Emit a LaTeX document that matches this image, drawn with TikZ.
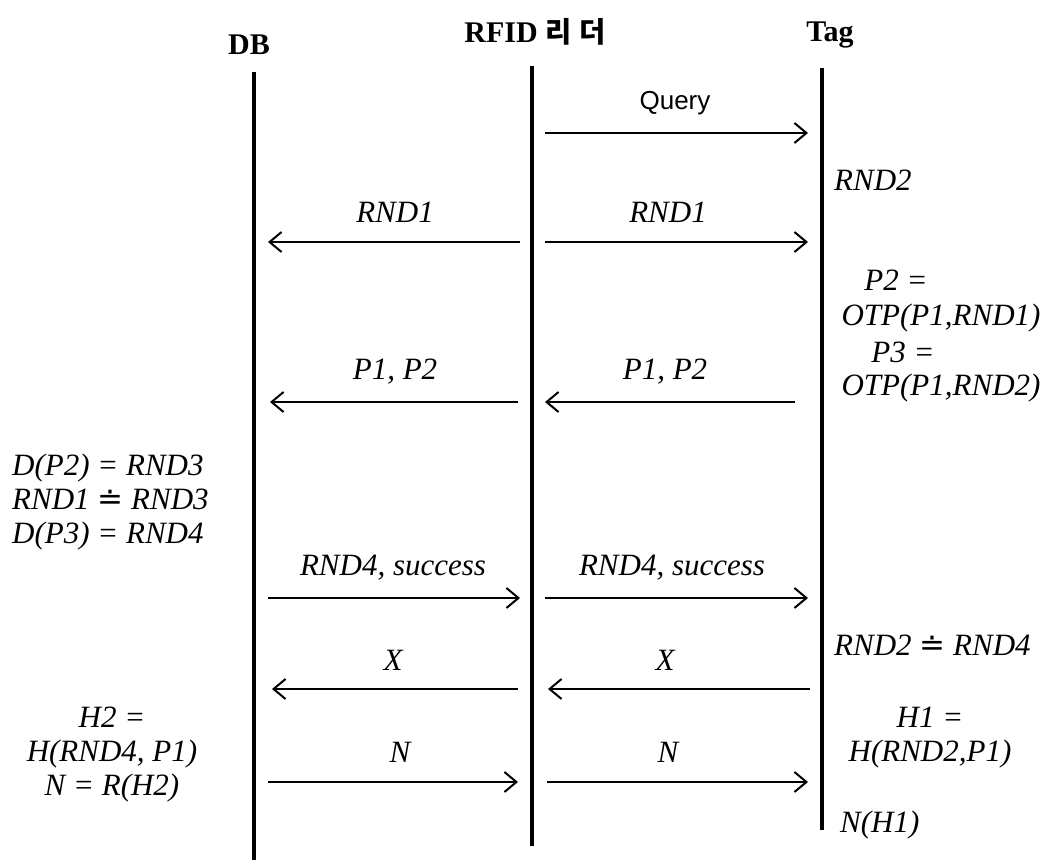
\documentclass[tikz,border=0pt]{standalone}
\usepackage{fontspec}
\setmainfont{Liberation Serif}
\newfontfamily\kfont{Noto Sans CJK KR}[Scale=0.95]
\newfontfamily\qfont{Liberation Sans}
\newfontfamily\symfont{DejaVu Sans}
\newcommand{\deq}{{\upshape\symfont ≐}}
\usetikzlibrary{arrows.meta}
\begin{document}
\begin{tikzpicture}[x=1pt,y=-1pt,
  lifeline/.style={line width=3.5pt},
  msg/.style={line width=2pt,-{Straight Barb[length=12pt,width=20pt,line width=2pt]}},
  lbl/.style={font=\fontsize{31}{35}\selectfont\itshape, inner sep=0pt},
  blk/.style={font=\fontsize{31}{34}\selectfont\itshape, inner sep=0pt},
  qlbl/.style={font=\fontsize{26}{30}\selectfont\qfont, inner sep=0pt},
  hdr/.style={font=\fontsize{30}{34}\selectfont\bfseries, inner sep=0pt}]
\useasboundingbox (0,0) rectangle (1053,860);

% headers
\node[hdr] (hdb) at (249,45) {DB};
\node[hdr] (hrf) at (535,32) {RFID {\kfont 리\kern8pt 더}};
\node[hdr] (htag) at (830,35) {Tag};

% lifelines
\coordinate (db0) at (254,72);  \coordinate (db1) at (254,860);
\coordinate (rf0) at (532,66);  \coordinate (rf1) at (532,846);
\coordinate (tg0) at (822,68);  \coordinate (tg1) at (822,830);
\draw[lifeline] (db0) -- (db1);
\draw[lifeline] (rf0) -- (rf1);
\draw[lifeline] (tg0) -- (tg1);

% message end points
\coordinate (q1) at (545,133); \coordinate (q2) at (808,133);
\coordinate (a1) at (520,242); \coordinate (a2) at (268,242);
\coordinate (a3) at (545,242); \coordinate (a4) at (808,242);
\coordinate (b1) at (518,402); \coordinate (b2) at (270,402);
\coordinate (b3) at (795,402); \coordinate (b4) at (545,402);
\coordinate (c1) at (268,598); \coordinate (c2) at (520,598);
\coordinate (c3) at (545,598); \coordinate (c4) at (808,598);
\coordinate (d1) at (518,689); \coordinate (d2) at (272,689);
\coordinate (d3) at (810,689); \coordinate (d4) at (548,689);
\coordinate (e1) at (268,782); \coordinate (e2) at (518,782);
\coordinate (e3) at (547,782); \coordinate (e4) at (808,782);

\draw[msg] (q1) -- (q2);
\draw[msg] (a1) -- (a2);
\draw[msg] (a3) -- (a4);
\draw[msg] (b1) -- (b2);
\draw[msg] (b3) -- (b4);
\draw[msg] (c1) -- (c2);
\draw[msg] (c3) -- (c4);
\draw[msg] (d1) -- (d2);
\draw[msg] (d3) -- (d4);
\draw[msg] (e1) -- (e2);
\draw[msg] (e3) -- (e4);

% message labels
\node[qlbl] (lq) at (675,103) {Query};
\node[lbl] (la1) at (395,212) {RND1};
\node[lbl] (la2) at (668,212) {RND1};
\node[lbl] (lb1) at (395,372) {P1, P2};
\node[lbl] (lb2) at (665,372) {P1, P2};
\node[lbl] (lc1) at (393,568) {RND4, success};
\node[lbl] (lc2) at (672,568) {RND4, success};
\node[lbl] (ld1) at (393,660) {X};
\node[lbl] (ld2) at (665,660) {X};
\node[lbl] (le1) at (400,752) {N};
\node[lbl] (le2) at (668,752) {N};

% Tag side computations
\node[lbl,anchor=west] (t1) at (834,180) {RND2};
\node[lbl] (t2) at (896,280) {P2 =};
\node[lbl] (t3) at (941,318) {OTP(P1,RND1)};
\node[lbl] (t4) at (903,352) {P3 =};
\node[lbl] (t5) at (941,388) {OTP(P1,RND2)};
\node[lbl,anchor=west] (t6) at (834,645) {RND2 \deq\ RND4};
\node[blk,align=center] (t7) at (930,738) {H1 =\\H(RND2,P1)};
\node[lbl,anchor=west] (t9) at (840,825) {N(H1)};

% DB side computations
\node[blk,align=left,anchor=west] (s1) at (12,502) {D(P2) = RND3\\RND1 \deq\ RND3\\D(P3) = RND4};
\node[blk,align=center] (s4) at (112,755) {H2 =\\H(RND4, P1)\\N = R(H2)};
\end{tikzpicture}
\end{document}
